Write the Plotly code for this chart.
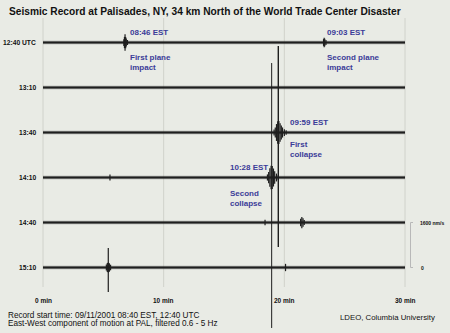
import plotly.graph_objects as go

# ---------------- data ----------------
row_labels = ["12:40 UTC", "13:10", "13:40", "14:10", "14:40", "15:10"]
row_step = 1600          # nm/s between successive traces
record_minutes = [0, 30]
x_ticks = [0, 10, 20, 30]
x_tick_labels = ["0 min", "10 min", "20 min", "30 min"]
scale_value = 1600       # nm/s scale bar

# large isolated spikes: row index, minute, upward / downward peak (nm/s)
spike_rows = [2, 3, 5, 0]
spike_t = [19.5, 18.95, 5.41, 6.8]
spike_up = [3075, 4070, 690, 290]
spike_dn = [4070, 5350, 870, 290]

# wavetrains (envelope readings): row index, minutes, amplitudes (nm/s)
wave_rows = [0, 0, 2, 3, 3, 4, 4, 5, 5]
wave_t = [
    [6.7, 6.75, 6.85, 6.9, 7.0],
    [23.25, 23.3, 23.35, 23.45],
    [19.15, 19.25, 19.35, 19.45, 19.55, 19.65, 19.75, 19.85, 20.0, 20.15],
    [18.6, 18.7, 18.8, 18.9, 19.0, 19.1, 19.2, 19.35, 19.5],
    [5.55],
    [21.35, 21.45, 21.55, 21.65],
    [18.4],
    [5.25, 5.33, 5.41, 5.5, 5.6],
    [20.1],
]
wave_a = [
    [120, 200, 200, 140, 90],
    [120, 170, 130, 90],
    [110, 180, 300, 400, 410, 330, 250, 180, 120, 80],
    [110, 200, 330, 420, 410, 320, 220, 140, 90],
    [110],
    [130, 200, 150, 90],
    [100],
    [110, 160, 180, 150, 100],
    [130],
]

event_times = ["08:46 EST", "09:03 EST", "09:59 EST", "10:28 EST"]
event_desc = ["First plane<br>impact", "Second plane<br>impact",
              "First<br>collapse", "Second<br>collapse"]

title_text = "Seismic Record at Palisades, NY, 34 km North of the World Trade Center Disaster"
footer_left = ["Record start time: 09/11/2001 08:40 EST, 12:40 UTC",
               "East-West component of motion at PAL, filtered 0.6 - 5 Hz"]
footer_right = "LDEO, Columbia University"
scale_label = "1600 nm/s"

# ---------------- geometry / style ----------------
W, H = 450, 333
PX0, PPM = 43.0, 362.0 / 30.0          # pixel of 0 min, pixels per minute
Y0PX, NPP = 42.5, 1600.0 / 45.0        # pixel of first trace, nm/s per pixel


def tx(px):
    return (px - PX0) / PPM


def ty(py):
    return -(py - Y0PX) * NPP


FONT = "Liberation Sans, Arial, sans-serif"
BG = "#e9ebe5"
INK = "#1e1e1e"
BLUE = "#3b3b98"
GRID = "#d0d2cb"

fig = go.Figure()

# gridlines
for t in x_ticks:
    fig.add_trace(go.Scatter(x=[t, t], y=[ty(18), ty(287)], mode="lines",
                             line=dict(color=GRID, width=1), hoverinfo="skip",
                             showlegend=False))

bases = [-row_step * i for i in range(len(row_labels))]

# noise bands
for b in bases:
    fig.add_trace(go.Scatter(x=record_minutes, y=[b, b], mode="lines",
                             line=dict(color="rgba(40,40,40,0.35)", width=3.4),
                             hoverinfo="skip", showlegend=False))
    fig.add_trace(go.Scatter(x=record_minutes, y=[b, b], mode="lines",
                             line=dict(color=INK, width=1.8),
                             hoverinfo="skip", showlegend=False))

# wavetrains
for r, ts, amps in zip(wave_rows, wave_t, wave_a):
    xs, ys = [], []
    for t, a in zip(ts, amps):
        xs += [t, t, None]
        ys += [bases[r] + a, bases[r] - a, None]
    fig.add_trace(go.Scatter(x=xs, y=ys, mode="lines",
                             line=dict(color=INK, width=1.2),
                             hoverinfo="skip", showlegend=False))

# large spikes
for r, t, up, dn, w in zip(spike_rows, spike_t, spike_up, spike_dn, [1.4, 1.0, 1.2, 1.2]):
    fig.add_trace(go.Scatter(x=[t, t], y=[bases[r] + up, bases[r] - dn], mode="lines",
                             line=dict(color=INK, width=w),
                             hoverinfo="skip", showlegend=False))

# scale bar
sb_x = tx(410.5)
sb_x2 = tx(413)
b_last = bases[-1]
fig.add_trace(go.Scatter(x=[sb_x2, sb_x, sb_x, sb_x2],
                         y=[b_last + scale_value, b_last + scale_value, b_last, b_last],
                         mode="lines", line=dict(color="#b8b8b8", width=1),
                         hoverinfo="skip", showlegend=False))

ann = []


def A(px, py, text, size, color="#111", xanchor="left", bold=False, align="left"):
    ann.append(dict(x=tx(px), y=ty(py), xref="x", yref="y",
                    text=("<b>%s</b>" % text) if bold else text,
                    showarrow=False, xanchor=xanchor, yanchor="middle", align=align,
                    font=dict(family=FONT, size=size, color=color), borderpad=0))


A(8, 11, title_text, 10.2, bold=True)
for lab, b in zip(row_labels, bases):
    ann.append(dict(x=tx(37), y=b, xref="x", yref="y", text="<b>%s</b>" % lab,
                    showarrow=False, xanchor="right", yanchor="middle",
                    font=dict(family=FONT, size=6.7, color="#111"), borderpad=0))
for t, lab in zip(x_ticks, x_tick_labels):
    ann.append(dict(x=t, y=ty(300), xref="x", yref="y", text="<b>%s</b>" % lab,
                    showarrow=False, xanchor="center", yanchor="middle",
                    font=dict(family=FONT, size=6.5, color="#111"), borderpad=0))

ev_pos = [(129, 32.5, 62.8), (326, 32.5, 62.8),
          (289, 122.5, 149), (229, 167.5, 198)]
for (px, py, pyd), et, d in zip(ev_pos, event_times, event_desc):
    A(px, py, et, 8, BLUE, bold=True)
    A(px, pyd, d, 8, BLUE, bold=True)

A(7, 315.7, footer_left[0], 8.2)
A(7, 323.6, footer_left[1], 8.2)
A(436, 317, footer_right, 7.8, xanchor="right")
A(419, 223, scale_label, 5, bold=True)
A(420, 268, "0", 5, bold=True)

fig.update_layout(
    width=W, height=H, autosize=False,
    margin=dict(l=0, r=0, t=0, b=0, pad=0),
    paper_bgcolor=BG, plot_bgcolor=BG,
    xaxis=dict(visible=False, range=[tx(0), tx(W)], fixedrange=True),
    yaxis=dict(visible=False, range=[ty(H), ty(0)], fixedrange=True),
    annotations=ann, showlegend=False,
)

fig.write_html("out.html")
